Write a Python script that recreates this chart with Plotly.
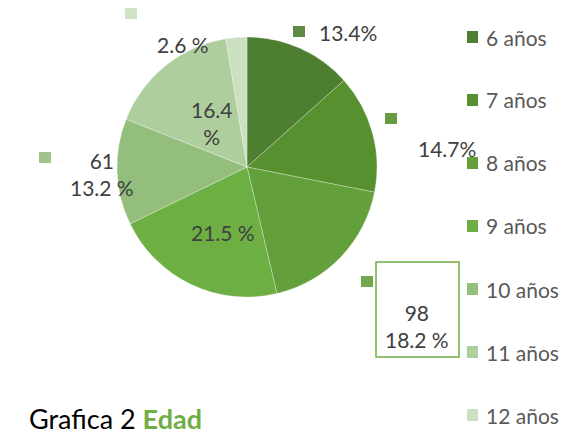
import plotly.graph_objects as go

# data
categories = ["6 años", "7 años", "8 años", "9 años", "10 años", "11 años", "12 años"]
percentages = [13.4, 14.7, 18.2, 21.5, 13.2, 16.4, 2.6]
label_texts = ["13.4%", "14.7%", "98<br>18.2 %", "21.5 %", "61<br>13.2 %", "16.4<br>%", "2.6 %"]
colors = ["#4e7e30", "#56902f", "#63a03c", "#6eaf44", "#93be7c", "#afce9e", "#cbe0c0"]

W, H = 569, 448
OFF = 8  # page body margin


def px_x(x):
    return (x - OFF) / W


def px_y(y):
    return 1 - (y - OFF) / H


fig = go.Figure()

fig.add_trace(go.Pie(
    labels=categories,
    values=percentages,
    sort=False,
    direction="clockwise",
    rotation=0,
    marker=dict(colors=colors, line=dict(color="rgba(255,255,255,0.35)", width=0.8)),
    textinfo="none",
    hoverinfo="label+percent",
    showlegend=False,
    domain=dict(x=[px_x(117), px_x(377)], y=[px_y(297), px_y(37)]),
))

label_font = dict(family="Lato, Open Sans, sans-serif", size=21, color="#404040")

# data label positions (text center) and key squares (x0, y0) in pixels
label_pos = [(348, 32), (447, 148), (417, 326), (223, 232), (102, 174), (212, 123), (183, 44)]
key_pos = [(293, 26), (385, 113), (361, 276), (166, 227), (39, 152), (166, 104), (125, 8)]

shapes = []
annotations = []
for i, txt in enumerate(label_texts):
    lx, ly = label_pos[i]
    annotations.append(dict(
        x=px_x(lx), y=px_y(ly), xref="paper", yref="paper",
        text=txt, showarrow=False, font=label_font, align="center",
        xanchor="center", yanchor="middle",
    ))
    kx, ky = key_pos[i]
    shapes.append(dict(
        type="rect", xref="paper", yref="paper",
        x0=px_x(kx), x1=px_x(kx + 12), y0=px_y(ky + 11), y1=px_y(ky),
        fillcolor=colors[i], line=dict(width=0), opacity=0.9 if i not in (3, 5) else 0.35,
    ))

# box around 8 años label
shapes.append(dict(
    type="rect", xref="paper", yref="paper",
    x0=px_x(376), x1=px_x(459), y0=px_y(357), y1=px_y(262),
    line=dict(color="#70ad47", width=1.5), fillcolor="rgba(0,0,0,0)",
))

# legend
legend_y0 = 37
legend_step = 63.0
for i, cat in enumerate(categories):
    cy = legend_y0 + i * legend_step
    shapes.append(dict(
        type="rect", xref="paper", yref="paper",
        x0=px_x(467), x1=px_x(478), y0=px_y(cy + 6), y1=px_y(cy - 6),
        fillcolor=colors[i], line=dict(width=0),
    ))
    annotations.append(dict(
        x=px_x(484), y=px_y(cy), xref="paper", yref="paper",
        text=cat, showarrow=False, xanchor="left", yanchor="middle",
        font=dict(family="Lato, Open Sans, sans-serif", size=21, color="#595959"),
    ))

# caption
annotations.append(dict(
    x=px_x(27), y=px_y(418), xref="paper", yref="paper",
    text="Grafica 2 <b><span style='color:#70ad47'>Edad</span></b>",
    showarrow=False, xanchor="left", yanchor="middle",
    font=dict(family="Lato, Open Sans, sans-serif", size=27, color="#000000"),
))

fig.update_layout(
    width=W, height=H,
    margin=dict(l=0, r=0, t=0, b=0),
    paper_bgcolor="white",
    plot_bgcolor="white",
    shapes=shapes,
    annotations=annotations,
)

fig.write_html("out.html")
